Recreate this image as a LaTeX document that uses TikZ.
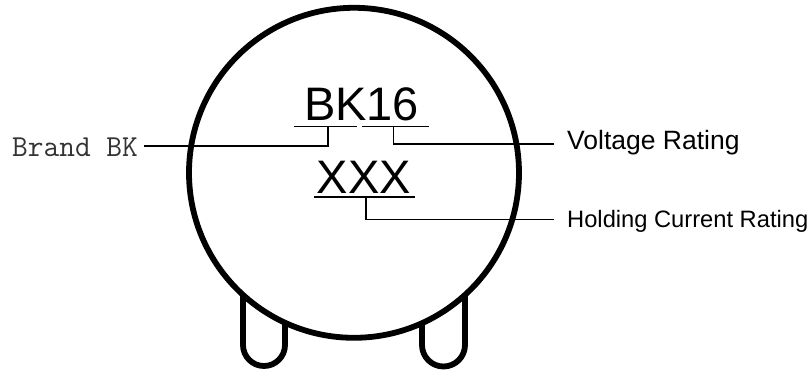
\documentclass[tikz,border=0pt]{standalone}
\usepackage{fontspec}
\setmainfont{Liberation Sans}
\tikzset{
  body/.style={line width=5.8pt,black},
  leader/.style={line width=1.5pt,black},
  marktext/.style={inner sep=0pt,font=\fontsize{47}{47}\selectfont,anchor=base},
  labeltext/.style={inner sep=0pt,font=\fontsize{26.5}{28}\selectfont,anchor=base west},
  labelsmall/.style={inner sep=0pt,font=\fontsize{23.7}{26}\selectfont,anchor=base west},
  brandtext/.style={inner sep=0pt,text=black!80,font=\ttfamily\fontsize{30.5}{32}\selectfont,anchor=base west}
}
\begin{document}
\begin{tikzpicture}[x=1pt,y=-1pt]
\useasboundingbox (0,0) rectangle (812,374);
% legs
\draw[body] (243,296) -- (243,345) arc[start angle=180,end angle=0,radius=21] -- (285,322);
\draw[body] (422,322) -- (422,345) arc[start angle=180,end angle=0,radius=21.5] -- (465,296);
% body
\node[circle,draw,body,minimum size=330pt,inner sep=0pt] (disc) at (354,172.8) {};
% markings
\node[marktext] (bk) at (361.5,120.5) {BK16};
\node[marktext] (xxx) at (364,193.5) {XXX};
% labels
\node[brandtext] (brand) at (12,157) {Brand BK};
\node[labeltext] (volt) at (567,150) {Voltage Rating};
\node[labelsmall] (hold) at (567,227.5) {Holding Current Rating};
% underlines
\coordinate (u1a) at (294,126.5); \coordinate (u1b) at (357,126.5);
\coordinate (u2a) at (362,126.5); \coordinate (u2b) at (429,126.5);
\coordinate (u3a) at (314,197); \coordinate (u3b) at (415,197);
\draw[leader] (u1a) -- (u1b);
\draw[leader] (u2a) -- (u2b);
\draw[leader] (u3a) -- (u3b);
% leader ends
\coordinate (s1) at (328,126.5); \coordinate (e1) at (144,146);
\coordinate (s2) at (393.5,126.5); \coordinate (e2) at (554,144);
\coordinate (s3) at (366,197); \coordinate (e3) at (554,219.5);
\draw[leader] (s1) |- (e1);
\draw[leader] (s2) |- (e2);
\draw[leader] (s3) |- (e3);
\end{tikzpicture}
\end{document}
